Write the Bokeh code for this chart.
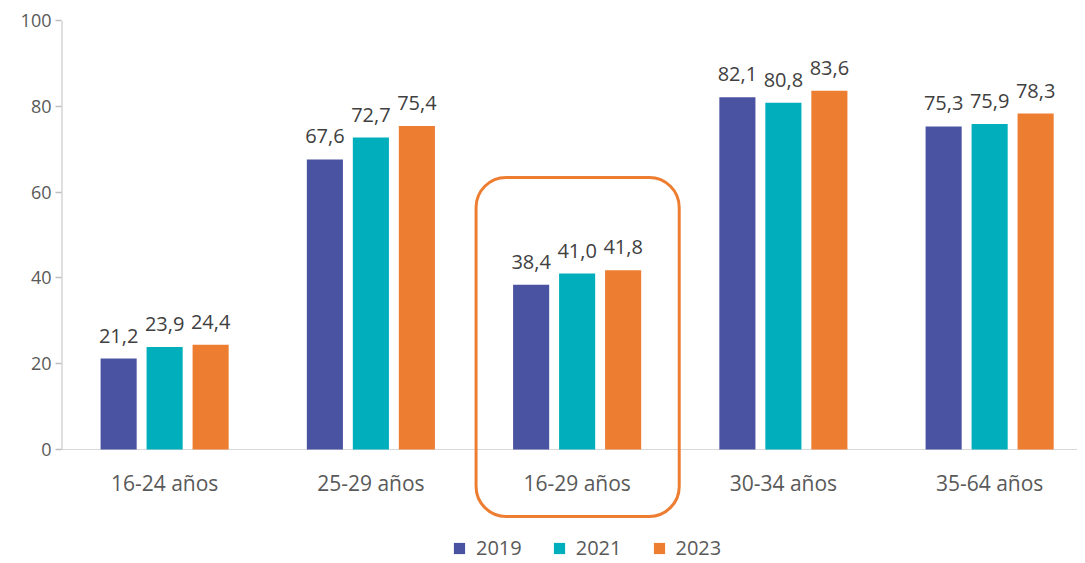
from bokeh.plotting import figure
from bokeh.models import (ColumnDataSource, FixedTicker, BoxAnnotation, Legend, LegendItem)
from bokeh.core.properties import value
from bokeh.embed import file_html
from bokeh.resources import INLINE
import numpy as np

categories = ["16-24 años", "25-29 años", "16-29 años", "30-34 años", "35-64 años"]
years = ["2019", "2021", "2023"]
v2019 = [21.2, 67.6, 38.4, 82.1, 75.3]
v2021 = [23.9, 72.7, 41.0, 80.8, 75.9]
v2023 = [24.4, 75.4, 41.8, 83.6, 78.3]
colors = ["#4A53A2", "#00AFBB", "#ED7D31"]
y_ticks = [0, 20, 40, 60, 80, 100]
highlight = "16-29 años"

FONT = "Open Sans"
pos = np.arange(len(categories)) + 0.5
PX_PER_UNIT = 4.29
FRAME_H = 541
y_start = 100 - FRAME_H / PX_PER_UNIT

p = figure(frame_width=1016, frame_height=FRAME_H, min_border_left=61, min_border_right=0,
           min_border_top=20, min_border_bottom=0,
           x_range=(0, 4.926), y_range=(y_start, 100),
           output_backend="svg", toolbar_location=None)
p.outline_line_color = None
p.xgrid.grid_line_color = None
p.ygrid.grid_line_color = None
p.xaxis.visible = False

# axis lines as glyphs
p.segment(x0=[0], y0=[0], x1=[4.926], y1=[0], line_color="#D9D9D9", line_width=1.2)
p.segment(x0=[0], y0=[0], x1=[0], y1=[100], line_color="#BFBFBF", line_width=2)

offsets = [-0.223, 0.0, 0.223]
series = [v2019, v2021, v2023]
items = []
for yr, vals, off, col in zip(years, series, offsets, colors):
    src = ColumnDataSource(dict(x=pos + off, top=vals,
                                lbl=[f"{v:.1f}".replace(".", ",") for v in vals]))
    r = p.vbar(x="x", top="top", width=0.175, source=src, fill_color=col, line_color=None)
    p.text(x="x", y="top", text="lbl", source=src, text_align="center",
           text_baseline="alphabetic", y_offset=-23, text_font=value(FONT),
           text_font_size="20px", text_color="#404040")
    items.append(LegendItem(label=yr, renderers=[r]))

# category labels
p.text(x=pos, y=[0] * len(pos), text=categories, text_align="center",
       text_baseline="middle", y_offset=33, text_font=value(FONT),
       text_font_size="21px", text_color="#595959")

# highlight box
hi = pos[categories.index(highlight)]
box = BoxAnnotation(left=hi - 0.49, right=hi + 0.495, top=63.4, bottom=-15.6,
                    fill_alpha=0, line_color="#ED7D31", line_alpha=1, line_width=3,
                    border_radius=30)
p.add_layout(box)

ya = p.yaxis[0]
ya.ticker = FixedTicker(ticks=y_ticks)
ya.minor_tick_line_color = None
ya.axis_line_color = None
ya.major_tick_line_color = "#BFBFBF"
ya.major_tick_line_width = 1.5
ya.major_tick_out = 6
ya.major_tick_in = 0
ya.major_label_standoff = 4
ya.major_label_text_font = FONT
ya.major_label_text_font_size = "18px"
ya.major_label_text_color = "#595959"

legend = Legend(items=items, orientation="horizontal", location=(391, 0),
                glyph_width=14, glyph_height=14, label_standoff=10, spacing=30,
                padding=0, margin=0, border_line_color=None, background_fill_alpha=0,
                label_text_font=FONT, label_text_font_size="20px",
                label_text_color="#595959")
p.add_layout(legend, "center")

open("out.html", "w").write(file_html(p, INLINE))
